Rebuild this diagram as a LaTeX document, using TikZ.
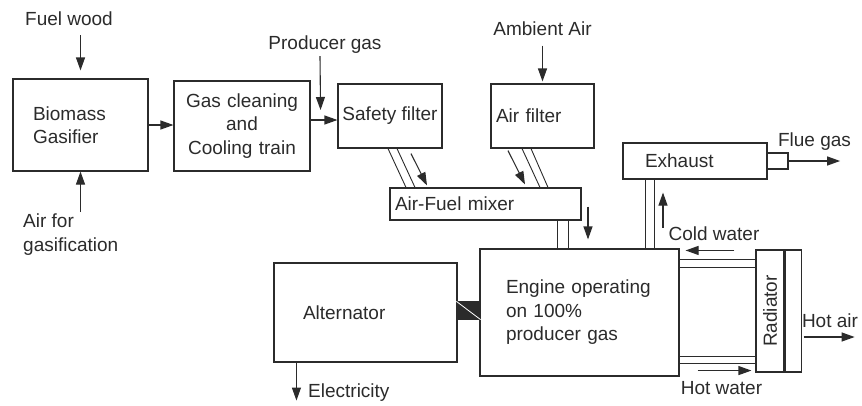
\documentclass[tikz,border=0pt]{standalone}
\usepackage{fontspec}
\setmainfont{Liberation Sans}
\usepackage{graphicx}
\usetikzlibrary{arrows.meta,calc}
\definecolor{gasink}{HTML}{2B2B2B}
\tikzset{
  blk/.style={draw=gasink, line width=1.1pt, align=left, inner ysep=2pt, text=gasink},
  lbl/.style={inner sep=2pt, text=gasink},
  arr/.style={-{Stealth[length=13pt, width=9pt, inset=0pt]}, line width=1.1pt, draw=gasink},
  pipe/.style={draw=gasink, line width=0.9pt},
}

\begin{document}
\begin{tikzpicture}[x=1pt, y=-1pt, font=\fontsize{19}{23.5}\selectfont]
  \useasboundingbox (0,0) rectangle (862,405);
  % boxes
  \node[blk, text width=95pt, inner xsep=20pt, minimum height=92pt] (gas) at (80.5,125) {Biomass\\Gasifier};
  \node[blk, text width=126pt, inner xsep=5pt, minimum height=90pt, align=center] (clean) at (242,126) {Gas cleaning\\and\\Cooling train};
  \node[blk, minimum width=104pt, minimum height=64pt] (safety) at (390,116) {Safety filter};
  \node[blk, text width=93pt, inner xsep=5pt, minimum height=64pt] (airf) at (542.5,116) {Air filter};
  \node[blk, text width=181pt, inner xsep=5pt, minimum height=32pt] (mixer) at (485.5,204) {Air-Fuel mixer};
  \node[blk, text width=100pt, inner xsep=22pt, minimum height=36pt] (exhaust) at (695,161) {Exhaust};
  \node[blk, inner sep=0pt, minimum width=21pt, minimum height=16pt] (noz) at (777.5,161) {};
  \node[blk, text width=147pt, inner xsep=26pt, minimum height=127pt] (engine) at (579.5,312.5) {Engine operating\\on 100\%\\producer gas};
  \node[blk, text width=125pt, inner xsep=29pt, minimum height=99pt] (alt) at (365.5,312.5) {Alternator};
  \node[blk, fill=gasink, inner sep=0pt, minimum width=23pt, minimum height=17pt] (coup) at (468.5,310.5) {};
  \node[blk, inner sep=0pt, minimum width=28pt, minimum height=122pt, align=center] (rad) at (770,311) {\rotatebox{90}{Radiator}};
  \node[blk, inner sep=0pt, minimum width=16pt, minimum height=122pt, anchor=west] (radr) at (rad.east) {};
  \draw[white, line width=0.8pt] (coup.north west) -- (coup.south east);

  % labels
  \node[lbl] (fw) at (69,19) {Fuel wood};
  \node[lbl, align=left, anchor=north west] (afg) at (21,212) {Air for\\gasification};
  \node[lbl] (pg) at (325,45) {Producer gas};
  \node[lbl] (amb) at (542.5,28.5) {Ambient Air};
  \node[lbl] (flue) at (814.5,142) {Flue gas};
  \node[lbl] (cw) at (714,234) {Cold water};
  \node[lbl] (hw) at (721.5,388) {Hot water};
  \node[lbl] (ha) at (830,321) {Hot air};
  \node[lbl, anchor=west] (elec) at (306,393) {Electricity};

  % gas train
  \draw[arr, shorten <=7pt, shorten >=8pt] (fw.south -| gas.north) -- (gas.north);
  \draw[arr] (afg.north -| gas.south) -- (gas.south);
  \draw[arr] (gas.east) -- (gas.east -| clean.west);
  \draw[arr] ($(clean.east)+(0,-6)$) -- ($(safety.west)+(0,4)$);
  \draw[arr] ($(pg.south)+(-5,0)$) -- ($(clean.east)+(10,-16)$);
  \draw[arr, shorten <=8pt, shorten >=2pt] (amb.south -| airf.north) -- (airf.north);

  % filters to mixer
  \draw[pipe] ($(safety.south)+(-2,0)$) -- ($(mixer.north)+(-79.5,0)$);
  \draw[pipe] ($(safety.south)+(7,0)$) -- ($(mixer.north)+(-70.5,0)$);
  \draw[arr] ($(safety.south)+(21,5)$) -- ($(mixer.north)+(-58.5,-2)$);
  \draw[pipe] ($(airf.south)+(-20.5,0)$) -- ($(mixer.north)+(54.5,0)$);
  \draw[pipe] ($(airf.south)+(-11.5,0)$) -- ($(mixer.north)+(62.5,0)$);
  \draw[arr] ($(airf.south)+(-34.5,2)$) -- ($(mixer.north)+(39.5,-3)$);

  % mixer, engine, exhaust
  \draw[pipe] ($(mixer.south)+(71.5,0)$) -- ($(engine.north)+(-22.5,0)$);
  \draw[pipe] ($(mixer.south)+(82.5,0)$) -- ($(engine.north)+(-11.5,0)$);
  \draw[arr] ($(mixer.south)+(102.5,-14)$) -- ($(engine.north)+(8.5,-9)$);
  \draw[pipe] ($(engine.north)+(65.5,0)$) -- ($(exhaust.south)+(-50,0)$);
  \draw[pipe] ($(engine.north)+(74.5,0)$) -- ($(exhaust.south)+(-41,0)$);
  \draw[arr] ($(exhaust.south)+(-32,48)$) -- ($(exhaust.south)+(-32,13)$);
  \draw[arr, shorten >=13pt] (noz.east) -- (noz.east -| flue.east);

  % cooling loop
  \draw[pipe] ($(engine.north east)+(0,11)$) -- ($(rad.north west)+(0,10)$);
  \draw[pipe] ($(engine.north east)+(0,19)$) -- ($(rad.north west)+(0,18)$);
  \draw[pipe] ($(engine.south east)+(0,-20)$) -- ($(rad.south west)+(0,-16)$);
  \draw[pipe] ($(engine.south east)+(0,-13)$) -- ($(rad.south west)+(0,-9)$);
  \draw[arr] ($(rad.north west)+(-21,1)$) -- ($(engine.north east)+(6,2)$);
  \draw[arr] ($(engine.south east)+(18,-6)$) -- ($(rad.south west)+(-4,-2)$);
  \draw[arr] ($(radr.east)+(2,26)$) -- ($(radr.east)+(53,26)$);
  \draw[arr] ($(alt.south west)+(23,0)$) -- ($(alt.south west)+(23,38)$);
\end{tikzpicture}
\end{document}
